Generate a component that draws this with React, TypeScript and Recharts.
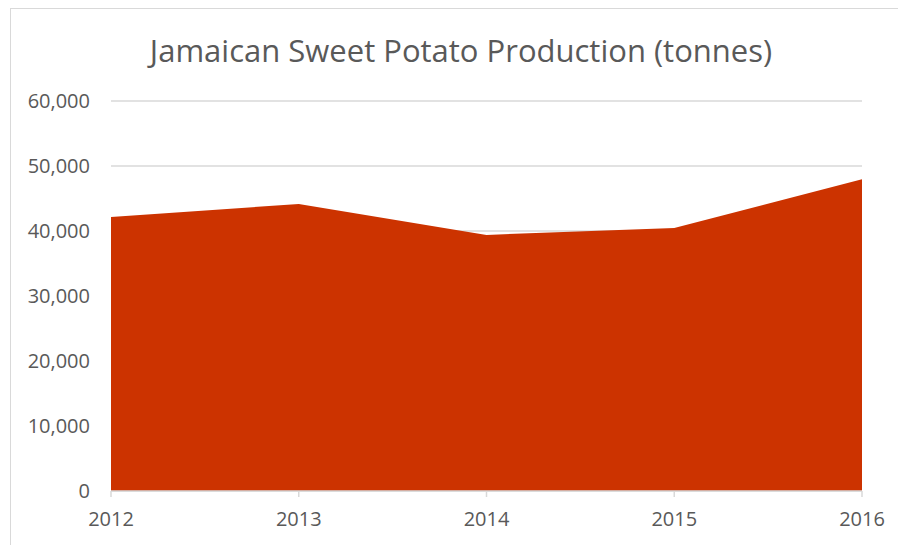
import React from 'react';
import { AreaChart, Area, XAxis, YAxis, CartesianGrid } from 'recharts';

const years = ['2012', '2013', '2014', '2015', '2016'];
const production = [42150, 44150, 39400, 40450, 47950];
const yTicks = [0, 10000, 20000, 30000, 40000, 50000, 60000];

const data = years.map((year, i) => ({ year, production: production[i] }));

const font = "'Open Sans', sans-serif";
const textColor = '#595959';
const lineColor = '#D9D9D9';

const App = () => {
  return (
    <div style={{ position: 'absolute', left: 0, top: 0, width: 898, height: 545, overflow: 'hidden', background: '#fff' }}>
      <div
        style={{
          position: 'absolute',
          left: 10,
          top: 8,
          width: 900,
          height: 560,
          border: `1.5px solid ${lineColor}`,
        }}
      />
      <div
        style={{
          position: 'absolute',
          left: 0,
          top: 30,
          width: 922,
          textAlign: 'center',
          fontFamily: font,
          fontSize: 31,
          color: textColor,
          lineHeight: '40px',
        }}
      >
        Jamaican Sweet Potato Production (tonnes)
      </div>
      <div style={{ position: 'absolute', left: 0, top: 0 }}>
        <AreaChart
          width={898}
          height={545}
          data={data}
          margin={{ top: 101, right: 36, bottom: 0, left: 31 }}
        >
          <CartesianGrid horizontal vertical={false} stroke={lineColor} strokeWidth={1.5} />
          <XAxis
            dataKey="year"
            height={54}
            stroke={lineColor}
            strokeWidth={1.5}
            tickSize={6}
            tickMargin={15}
            tick={{ fill: textColor, fontSize: 20, fontFamily: font }}
          />
          <YAxis
            width={80}
            domain={[0, 60000]}
            ticks={yTicks}
            axisLine={false}
            tickLine={false}
            tickSize={0}
            tickMargin={21}
            tickFormatter={(v: number) => v.toLocaleString('en-US')}
            tick={{ fill: textColor, fontSize: 20, fontFamily: font }}
          />
          <Area
            type="linear"
            dataKey="production"
            stroke="none"
            fill="#CC3300"
            fillOpacity={1}
            isAnimationActive={false}
          />
        </AreaChart>
      </div>
    </div>
  );
};

export default App;
